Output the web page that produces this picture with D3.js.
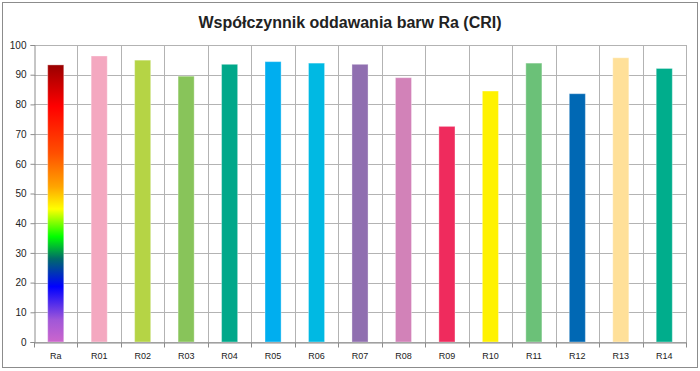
<!DOCTYPE html>
<html lang="pl">
<head>
<meta charset="UTF-8">
<title>Współczynnik oddawania barw Ra (CRI)</title>
<script src="https://d3js.org/d3.v7.min.js"></script>
<style>
  body { margin: 0; background: #fff; }
  text { font-family: "Liberation Sans", "DejaVu Sans", sans-serif; fill: #222; }
</style>
</head>
<body>
<script>
const width = 700;
const height = 371;

const categories = ["Ra", "R01", "R02", "R03", "R04", "R05", "R06", "R07", "R08", "R09", "R10", "R11", "R12", "R13", "R14"];
const values = [93.3, 96.3, 94.9, 89.5, 93.5, 94.4, 93.9, 93.5, 89.0, 72.6, 84.5, 93.9, 83.6, 95.7, 92.1];
const colors = ["url(#raGrad)", "#f4a8c0", "#b5d445", "#88c45a", "#00a88a", "#00aeef", "#00b9e3",
                "#906fb0", "#d282b8", "#ef2b5d", "#fff200", "#6bc178", "#0068b4", "#ffe099", "#00ad8c"];
const yTicks = [0, 10, 20, 30, 40, 50, 60, 70, 80, 90, 100];
const title = "Współczynnik oddawania barw Ra (CRI)";

const margin = {top: 45, right: 14, bottom: 29, left: 34};

const svg = d3.select("body").append("svg")
    .attr("width", width)
    .attr("height", height);

// outer chart frame
svg.append("rect")
    .attr("x", 2.5).attr("y", 2.5)
    .attr("width", width - 5).attr("height", height - 6)
    .attr("fill", "#fff")
    .attr("stroke", "#8c8c8c");

const x = d3.scaleBand()
    .domain(categories)
    .range([margin.left, width - margin.right])
    .paddingInner(0).paddingOuter(0);

const y = d3.scaleLinear()
    .domain([0, 100])
    .range([height - margin.bottom, margin.top]);

// rainbow gradient for the Ra bar
const defs = svg.append("defs");
const grad = defs.append("linearGradient")
    .attr("id", "raGrad")
    .attr("x1", 0).attr("y1", 1).attr("x2", 0).attr("y2", 0);
const stops = [
    [0, "#cc66cc"], [0.08, "#a057d8"], [0.2, "#0000ff"], [0.3, "#006a6a"],
    [0.38, "#00ff00"], [0.48, "#ffff00"], [0.56, "#ffa500"], [0.68, "#ff5000"],
    [0.85, "#ff0000"], [1, "#990000"]
];
grad.selectAll("stop").data(stops).join("stop")
    .attr("offset", d => d[0])
    .attr("stop-color", d => d[1]);

// horizontal gridlines
svg.append("g")
    .selectAll("line")
    .data(yTicks)
    .join("line")
    .attr("x1", margin.left).attr("x2", width - margin.right)
    .attr("y1", d => Math.round(y(d)) + 0.5).attr("y2", d => Math.round(y(d)) + 0.5)
    .attr("stroke", "#b3b3b3");

// vertical gridlines at category boundaries
svg.append("g")
    .selectAll("line")
    .data(categories.slice(1).concat(["end"]))
    .join("line")
    .attr("x1", (d, i) => Math.round(x.range()[0] + (i + 1) * x.step()) + 0.5)
    .attr("x2", (d, i) => Math.round(x.range()[0] + (i + 1) * x.step()) + 0.5)
    .attr("y1", y(100)).attr("y2", y(0) + 5)
    .attr("stroke", "#b3b3b3");

// bars
const barW = x.bandwidth() * 0.37;
svg.append("g")
    .selectAll("rect")
    .data(categories)
    .join("rect")
    .attr("x", d => x(d) + (x.bandwidth() - barW) / 2)
    .attr("y", (d, i) => y(values[i]))
    .attr("width", barW)
    .attr("height", (d, i) => y(0) - y(values[i]))
    .attr("fill", (d, i) => colors[i])
    .attr("stroke", "rgba(255,255,255,0.35)")
    .attr("stroke-width", 1);

// y axis
const yAxis = svg.append("g")
    .attr("transform", `translate(${margin.left + 0.5},0)`)
    .call(d3.axisLeft(y).tickValues(yTicks).tickSize(4).tickPadding(4));
yAxis.select(".domain").attr("stroke", "#8c8c8c");
yAxis.selectAll(".tick line").attr("stroke", "#8c8c8c");
yAxis.selectAll("text").attr("font-size", 10).attr("fill", "#222");

// x axis
const xAxis = svg.append("g")
    .attr("transform", `translate(0,${Math.round(y(0)) + 0.5})`)
    .call(d3.axisBottom(x).tickSize(0).tickPadding(10));
xAxis.select(".domain").attr("stroke", "#8c8c8c");
xAxis.selectAll("text").attr("font-size", 9).attr("fill", "#222");
xAxis.selectAll(".tickmark")
    .data(d3.range(categories.length + 1))
    .join("line")
    .attr("x1", i => Math.round(x.range()[0] + i * x.step()) + 0.5)
    .attr("x2", i => Math.round(x.range()[0] + i * x.step()) + 0.5)
    .attr("y1", 0).attr("y2", 5)
    .attr("stroke", "#8c8c8c");

// title
svg.append("text")
    .attr("x", width / 2)
    .attr("y", 28)
    .attr("text-anchor", "middle")
    .attr("font-size", 16)
    .attr("font-weight", "bold")
    .attr("fill", "#111")
    .text(title);
</script>
</body>
</html>
